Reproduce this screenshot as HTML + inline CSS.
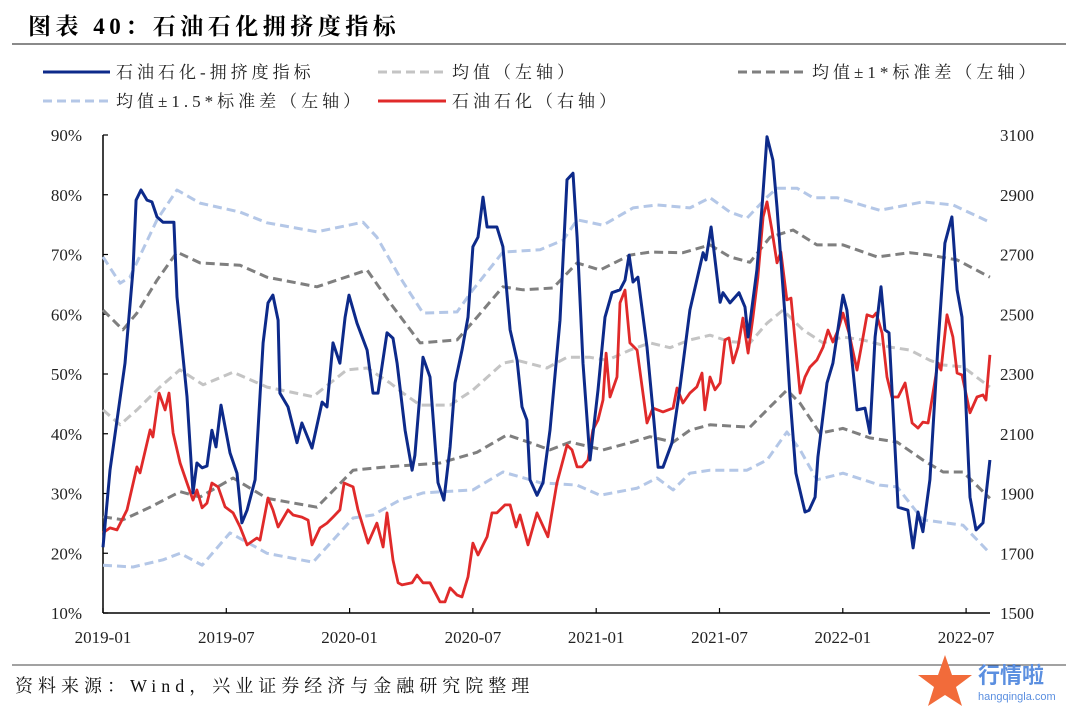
<!DOCTYPE html>
<html><head><meta charset="utf-8"><style>
body{margin:0;background:#fff;width:1080px;height:709px;overflow:hidden;font-family:"Liberation Serif","Noto Serif CJK SC",serif;}
svg{display:block}
</style></head><body>
<svg id="chart" width="1080" height="709" xmlns="http://www.w3.org/2000/svg" font-family="Liberation Serif, Noto Serif CJK SC, serif">
<text x="28" y="34" font-size="23" font-weight="bold" fill="#000" letter-spacing="4.5">图表 40：石油石化拥挤度指标</text>
<line x1="12" y1="44" x2="1066" y2="44" stroke="#444" stroke-width="1.2"/>
<g font-size="17" fill="#222" letter-spacing="4">
<g><line x1="43" y1="72" x2="110" y2="72" stroke="#0d2a8a" stroke-width="3"/><text x="116" y="78">石油石化-拥挤度指标</text></g>
<g><line x1="378" y1="72" x2="446" y2="72" stroke="#c4c4c4" stroke-width="3" stroke-dasharray="9,5"/><text x="452" y="78">均值（左轴）</text></g>
<g><line x1="738" y1="72" x2="806" y2="72" stroke="#7f7f7f" stroke-width="3" stroke-dasharray="9,5"/><text x="812" y="78">均值±1*标准差（左轴）</text></g>
<g><line x1="43" y1="101" x2="110" y2="101" stroke="#b4c7e7" stroke-width="3" stroke-dasharray="9,5"/><text x="116" y="107">均值±1.5*标准差（左轴）</text></g>
<g><line x1="378" y1="101" x2="446" y2="101" stroke="#e02a2a" stroke-width="3"/><text x="452" y="107">石油石化（右轴）</text></g>
</g>
<g id="axes"></g>
<g id="series"></g>
<line x1="12" y1="665" x2="1066" y2="665" stroke="#444" stroke-width="1"/>
<text x="15" y="692" font-size="18" fill="#111" letter-spacing="5">资料来源：Wind，兴业证券经济与金融研究院整理</text>
<g>
<polygon points="945,655 952,675 972,675 956,687 962,706 945,695 928,706 934,687 918,675 938,675" fill="#f26b3a"/>
<text x="978" y="683" font-size="22" font-weight="bold" fill="#5b8fe0" font-family="Liberation Sans, Noto Sans CJK SC, sans-serif">行情啦</text>
<text x="978" y="700" font-size="11" fill="#5b8fe0" font-family="Liberation Sans, sans-serif">hangqingla.com</text>
</g>
</svg>
<script>
const xTickLabels=["2019-01","2019-07","2020-01","2020-07","2021-01","2021-07","2022-01","2022-07"];
const leftTicks=[10,20,30,40,50,60,70,80,90];
const rightTicks=[1500,1700,1900,2100,2300,2500,2700,2900,3100];
// x data: months since 2019-01
const crowdM=[0,0.34,1.07,1.46,1.61,1.85,2.14,2.38,2.63,2.92,3.45,3.6,4.09,4.38,4.57,4.82,5.06,5.3,5.5,5.74,6.18,6.52,6.76,7.01,7.4,7.79,8.03,8.27,8.52,8.61,9.0,9.44,9.68,10.17,10.66,10.9,11.19,11.53,11.78,11.97,12.36,12.85,13.14,13.38,13.82,14.11,14.31,14.7,15.04,15.18,15.57,15.91,16.3,16.59,16.89,17.13,17.47,17.76,18.0,18.25,18.49,18.69,19.17,19.46,19.81,20.15,20.39,20.63,20.78,21.12,21.41,21.75,22.24,22.58,22.87,23.07,23.36,23.7,24.09,24.43,24.77,25.16,25.4,25.6,25.79,26.03,26.47,26.76,27.01,27.25,27.69,28.08,28.56,29.2,29.34,29.59,30.03,30.17,30.51,30.95,31.24,31.39,31.82,32.07,32.31,32.6,32.8,33.19,33.43,33.72,34.16,34.36,34.65,34.79,35.23,35.52,36.01,36.2,36.69,37.08,37.32,37.57,37.86,38.05,38.25,38.69,39.17,39.42,39.66,39.9,40.24,40.63,40.97,41.31,41.56,41.8,42.19,42.48,42.82,43.16];
const crowdV=[21,33.9,51.8,67.4,79.1,80.8,79.1,78.8,76.3,75.4,75.4,62.9,46.2,30.1,35.1,34.3,34.6,40.6,37.8,44.8,36.8,33.4,25.1,27.2,32.3,55.2,61.9,63.2,59.0,46.8,44.5,38.5,41.8,37.6,45.3,44.5,55.2,51.8,59.5,63.2,58.5,54.0,46.8,46.8,56.9,56.0,51.8,40.6,33.9,36.4,52.8,49.5,31.8,28.9,37.8,48.5,54.0,59.5,71.3,72.9,79.6,74.6,74.6,71.3,57.4,52.3,44.5,42.3,32.3,29.7,31.8,40.6,59.0,82.5,83.6,72.9,51.8,35.6,47.3,59.5,63.6,64.1,65.7,69.9,65.4,66.2,54.5,44.0,34.4,34.4,38.5,47.8,60.7,70.3,69.1,74.6,62.0,63.6,61.9,63.6,61.2,56.2,67.4,77.9,89.7,85.8,77.9,59.5,46.2,33.4,26.9,27.2,29.4,36.1,48.5,51.8,63.2,60.7,44.0,44.3,40.1,56.2,64.6,57.4,56.9,27.7,27.2,20.9,26.9,23.6,32.3,54.5,71.9,76.3,64.1,59.5,29.4,23.9,25.1,35.6];
const priceM=[0,0.34,0.68,1.17,1.65,1.8,2.29,2.43,2.73,3.02,3.21,3.41,3.75,4.09,4.38,4.57,4.82,5.06,5.3,5.6,5.94,6.33,6.67,7.01,7.49,7.64,8.03,8.27,8.52,9.0,9.25,9.68,9.98,10.17,10.56,10.9,11.19,11.53,11.73,12.17,12.41,12.9,13.33,13.63,13.82,14.11,14.36,14.55,15.04,15.28,15.57,15.91,16.4,16.64,16.89,17.23,17.47,17.76,18.0,18.25,18.69,18.93,19.17,19.56,19.81,20.1,20.29,20.68,21.12,21.65,22.09,22.58,22.82,23.07,23.31,23.6,23.84,24.09,24.33,24.48,24.67,25.01,25.16,25.4,25.64,25.99,26.47,26.76,27.25,27.74,27.93,28.22,28.56,28.9,29.15,29.29,29.54,29.78,30.03,30.27,30.46,30.66,30.9,31.14,31.39,31.63,31.87,32.12,32.31,32.55,32.8,32.99,33.28,33.48,33.92,34.16,34.4,34.74,35.04,35.28,35.52,35.77,36.01,36.3,36.69,36.98,37.18,37.47,37.62,37.91,38.15,38.39,38.69,39.03,39.37,39.66,39.9,40.15,40.63,40.78,41.07,41.36,41.56,41.8,42.19,42.53,42.82,42.97,43.16];
const priceV=[1768,1785,1778,1845,1989,1969,2113,2089,2236,2180,2236,2103,2002,1935,1878,1912,1852,1868,1935,1922,1855,1835,1788,1728,1751,1744,1885,1845,1788,1845,1828,1821,1811,1728,1785,1801,1821,1845,1935,1922,1845,1734,1801,1721,1835,1677,1601,1594,1601,1627,1601,1601,1537,1537,1584,1560,1554,1621,1734,1694,1755,1835,1835,1862,1862,1788,1828,1728,1835,1755,1935,2062,2046,1989,1989,2012,2113,2146,2213,2370,2223,2290,2538,2581,2404,2380,2136,2186,2173,2186,2253,2203,2236,2257,2303,2180,2290,2247,2270,2414,2421,2337,2390,2487,2370,2491,2625,2826,2876,2782,2672,2708,2548,2554,2236,2290,2323,2347,2390,2447,2407,2447,2504,2437,2313,2421,2498,2491,2504,2437,2290,2223,2223,2270,2136,2119,2139,2136,2337,2313,2498,2424,2303,2297,2170,2223,2230,2213,2364];
const meanM=[0,0.83,1.65,2.77,3.74,4.87,6.33,7.98,10.22,11.87,12.85,13.97,14.6,15.43,16.89,18.0,19.46,20.15,21.6,22.58,23.7,24.53,25.64,26.62,27.59,28.56,29.54,30.51,31.48,32.31,33.09,34.06,35.04,36.01,36.98,38.3,39.27,40.24,40.88,41.85,43.16];
const meanV=[44.0,41.5,44.0,47.8,50.7,48.2,50.3,47.8,46.2,50.7,51.0,48.5,46.8,44.8,44.8,47.3,51.8,52.3,51.0,52.8,52.8,52.3,54.0,55.2,54.4,55.7,56.5,55.4,55.2,58.5,60.7,57.4,55.2,56.2,55.7,54.5,54.0,52.3,51.5,51.2,47.8];
const up1M=[0,0.97,1.65,2.63,3.6,4.72,6.67,7.98,10.41,12.85,13.97,15.43,17.23,18.2,19.46,20.44,21.9,23.07,24.19,25.64,26.62,28.22,29.54,30.51,31.48,32.46,33.58,34.74,36.01,37.67,39.27,40.24,41.56,43.16];
const up1V=[60.7,57.4,60.2,65.7,70.4,68.6,68.2,66.2,64.6,67.4,61.9,55.2,55.7,59.5,64.6,64.1,64.4,68.6,67.4,69.9,70.4,70.3,71.6,69.6,68.7,72.9,74.1,71.6,71.6,69.6,70.3,69.9,69.1,66.2];
const lo1M=[0,0.97,2.29,3.75,4.72,6.33,7.98,10.41,12.17,13.63,16.4,18.2,19.66,20.78,21.75,22.73,24.33,25.64,26.62,27.74,28.56,29.54,31.48,32.31,33.28,33.92,34.89,36.01,37.32,38.64,39.9,40.88,41.85,43.16];
const lo1V=[26.1,25.6,27.7,30.3,29.4,32.6,29.2,27.7,33.9,34.4,35.1,36.9,39.8,38.5,37.3,38.6,37.3,38.5,39.5,38.6,40.6,41.5,41.1,44.0,47.3,45.1,40.1,40.9,39.3,38.6,35.6,33.6,33.6,29.2];
const up15M=[0,0.83,1.31,2.63,3.6,4.72,6.67,7.98,10.41,12.65,13.33,14.45,15.57,17.23,18.0,19.46,21.27,22.39,23.07,24.33,25.79,26.96,28.56,29.54,30.51,31.34,32.31,32.8,33.77,34.55,35.72,37.8,39.9,41.36,43.16];
const up15V=[69.6,65.2,66.2,75.8,80.8,78.6,77.1,75.3,73.8,75.4,72.9,66.2,60.2,60.4,64.1,70.4,70.8,72.4,75.8,74.9,77.8,78.3,77.8,79.5,77.1,76.1,79.6,81.1,81.1,79.5,79.5,77.4,78.8,78.3,75.4];
const lo15M=[0,1.46,2.92,3.75,4.82,6.18,7.98,10.22,12.17,13.14,14.45,15.57,18.0,19.46,21.27,23.07,24.19,26.0,26.96,27.74,28.56,29.54,31.34,32.31,33.28,33.92,34.74,36.01,37.8,38.64,39.9,41.85,43.02];
const lo15V=[18.0,17.7,18.9,20.0,18.0,23.4,20.0,18.5,25.9,26.4,28.9,30.1,30.6,33.6,31.8,31.4,29.7,30.9,32.6,30.6,33.4,33.9,33.9,35.6,40.3,37.3,32.3,33.4,31.4,31.1,25.6,24.7,20.5];

const X0=103,X1=990,YT=135,YB=613,PXM=20.55;
const xS=m=>X0+m*PXM;
const yL=v=>YB-(v-10)/80*(YB-YT);
const yR=v=>YB-(v-1500)/1600*(YB-YT);
const NS="http://www.w3.org/2000/svg";
function mk(tag,attrs,parent){const e=document.createElementNS(NS,tag);for(const k in attrs)e.setAttribute(k,attrs[k]);parent.appendChild(e);return e;}
const axes=document.getElementById('axes'), ser=document.getElementById('series');
const la=mk('line',{x1:X0,y1:YT,x2:X0,y2:YB,stroke:'#000','stroke-width':1.5},axes);


const ba=mk('line',{x1:X0,y1:YB,x2:X1,y2:YB,stroke:'#000','stroke-width':1.5},axes);


leftTicks.forEach(v=>{const y=yL(v);
 const t=mk('line',{x1:X0,y1:y,x2:X0+5,y2:y,stroke:'#000','stroke-width':1.2},axes);
 
 
 const tx=mk('text',{x:82,y:y+6,'text-anchor':'end','font-size':17,fill:'#222'},axes);tx.textContent=v+'%';
 
 });
rightTicks.forEach(v=>{const y=yR(v);
 const tx=mk('text',{x:1000,y:y+6,'font-size':17,fill:'#222'},axes);tx.textContent=v;
 
 });
xTickLabels.forEach((l,i)=>{const x=xS(i*6);
 const t=mk('line',{x1:x,y1:YB,x2:x,y2:YB-5,stroke:'#000','stroke-width':1.2},axes);
 
 
 const tx=mk('text',{x:x,y:643,'text-anchor':'middle','font-size':17,fill:'#222'},axes);tx.textContent=l;
 
 });
function line(ms,vs,ys,style,name){const d=ms.map((m,i)=>(i?'L':'M')+xS(m).toFixed(1)+','+ys(vs[i]).toFixed(1)).join('');
 const p=mk('path',Object.assign({d:d,fill:'none','stroke-linejoin':'round'},style),ser);
 
 }
const dash={'stroke-width':3,'stroke-dasharray':'9,5'};
line(up15M,up15V,yL,Object.assign({stroke:'#b4c7e7'},dash),'upper-1-5-std-line');
line(lo15M,lo15V,yL,Object.assign({stroke:'#b4c7e7'},dash),'lower-1-5-std-line');
line(meanM,meanV,yL,Object.assign({stroke:'#c4c4c4'},dash),'mean-line');
line(up1M,up1V,yL,Object.assign({stroke:'#7f7f7f'},dash),'upper-1-std-line');
line(lo1M,lo1V,yL,Object.assign({stroke:'#7f7f7f'},dash),'lower-1-std-line');
line(priceM,priceV,yR,{stroke:'#e02a2a','stroke-width':2.8},'price-line');
line(crowdM,crowdV,yL,{stroke:'#0d2a8a','stroke-width':3},'crowding-line');
</script>
</body></html>
